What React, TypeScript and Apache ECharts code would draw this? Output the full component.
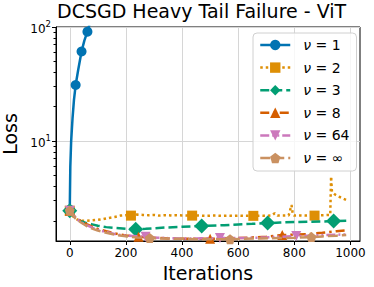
import React, { useEffect, useRef } from "react";
import * as echarts from "echarts";

// ---- data ----
const names = ["ν = 1", "ν = 2", "ν = 3", "ν = 8", "ν = 64", "ν = ∞"];
const colors = ["#0173B2", "#DE8F05", "#029E73", "#D55E00", "#CC78BC", "#CA9161"];

const x1 = [0, 2, 5, 10, 15, 21, 30, 42, 52, 63, 70];
const y1 = [2.5, 6, 10, 16, 23, 31, 42, 61, 76, 91, 105];
const m1 = [0, 21, 42, 63];

const x2 = [0, 10, 20, 30, 40, 60, 80, 100, 120, 140, 160, 180, 200, 218, 240, 260, 280, 300, 320, 340, 360, 380, 400, 436, 460, 480, 500, 520, 540, 560, 580, 600, 620, 654, 680, 700, 720, 730, 740, 760, 780, 790, 795, 800, 820, 840, 860, 872, 890, 910, 928, 931, 934, 945, 960, 972, 985];
const y2 = [2.45, 2.2, 2.1, 2.03, 2.0, 2.0, 2.02, 2.04, 2.07, 2.12, 2.16, 2.22, 2.24, 2.22, 2.27, 2.25, 2.24, 2.25, 2.22, 2.24, 2.23, 2.24, 2.23, 2.22, 2.22, 2.21, 2.22, 2.22, 2.21, 2.22, 2.21, 2.22, 2.21, 2.21, 2.22, 2.21, 2.23, 2.33, 2.22, 2.22, 2.23, 2.75, 2.25, 2.22, 2.23, 2.22, 2.23, 2.22, 2.23, 2.24, 2.25, 4.9, 3.6, 3.4, 3.25, 3.15, 3.05];
const m2 = [0, 218, 436, 654, 872];

const x3 = [0, 10, 20, 40, 60, 80, 100, 130, 160, 200, 235, 270, 300, 350, 400, 470, 550, 600, 650, 705, 750, 800, 850, 900, 940, 985];
const y3 = [2.45, 2.25, 2.12, 1.98, 1.91, 1.86, 1.81, 1.76, 1.73, 1.7, 1.69, 1.7, 1.72, 1.75, 1.77, 1.8, 1.83, 1.86, 1.88, 1.91, 1.93, 1.95, 1.96, 1.97, 1.99, 2.0];
const m3 = [0, 235, 470, 705, 940];

const x8 = [0, 20, 40, 60, 80, 100, 130, 160, 200, 245, 300, 350, 400, 450, 500, 550, 600, 650, 700, 757, 800, 850, 900, 950, 985];
const y8 = [2.45, 2.15, 1.98, 1.87, 1.78, 1.7, 1.62, 1.55, 1.49, 1.45, 1.42, 1.4, 1.39, 1.39, 1.39, 1.4, 1.41, 1.43, 1.45, 1.5, 1.51, 1.53, 1.57, 1.62, 1.65];
const m8 = [0, 245, 500, 757];

const x64 = [0, 20, 40, 60, 80, 100, 130, 160, 200, 270, 300, 350, 400, 450, 535, 600, 650, 700, 750, 807, 850, 900, 950, 985];
const y64 = [2.45, 2.12, 1.95, 1.83, 1.74, 1.67, 1.59, 1.53, 1.48, 1.45, 1.43, 1.41, 1.4, 1.4, 1.41, 1.41, 1.42, 1.43, 1.45, 1.47, 1.48, 1.5, 1.51, 1.52];
const m64 = [0, 270, 535, 807];

const xInf = [0, 20, 40, 60, 80, 100, 130, 160, 200, 240, 285, 330, 400, 450, 500, 571, 620, 680, 740, 800, 861, 900, 950, 985];
const yInf = [2.45, 2.1, 1.93, 1.8, 1.71, 1.64, 1.57, 1.51, 1.46, 1.43, 1.41, 1.4, 1.39, 1.38, 1.38, 1.38, 1.39, 1.4, 1.41, 1.42, 1.44, 1.46, 1.48, 1.5];
const mInf = [0, 285, 571, 861];

const xTicks = [0, 200, 400, 600, 800, 1000];
const yMajor = [10, 100];
const yMinor = [2, 3, 4, 5, 6, 7, 8, 9, 20, 30, 40, 50, 60, 70, 80, 90];

const FONT = "DejaVu Sans";
const pentagon = "path://M0,-1 L0.951,-0.309 L0.588,0.809 L-0.588,0.809 L-0.951,-0.309 Z";

function build(xs: number[], ys: number[], marks: number[]) {
  return xs.map((x, i) => (marks.includes(x) ? { value: [x, ys[i]] } : { value: [x, ys[i]], symbol: "none" }));
}

export default function App() {
  const ref = useRef<HTMLDivElement>(null);
  useEffect(() => {
    if (!ref.current) return;
    const chart = echarts.init(ref.current, null, { renderer: "svg" });
    const specs = [
      { xs: x1, ys: y1, m: m1, symbol: "circle", size: 10, dash: "solid" as any, rot: 0 },
      { xs: x2, ys: y2, m: m2, symbol: "rect", size: 10, dash: [2.5, 3], rot: 0 },
      { xs: x3, ys: y3, m: m3, symbol: "diamond", size: 15, dash: [9, 4], rot: 0 },
      { xs: x8, ys: y8, m: m8, symbol: "triangle", size: 10, dash: [9, 4, 2.5, 4], rot: 0 },
      { xs: x64, ys: y64, m: m64, symbol: "triangle", size: 10, dash: [9, 3, 2, 3, 2, 3], rot: 180 },
      { xs: xInf, ys: yInf, m: mInf, symbol: pentagon, size: 10, dash: [10, 4], rot: 0 },
    ];
    const series = specs.map((s, i) => ({
      type: "line",
      name: names[i],
      data: build(s.xs, s.ys, s.m),
      symbol: s.symbol,
      symbolSize: s.size,
      symbolRotate: s.rot,
      showAllSymbol: true,
      color: colors[i],
      itemStyle: { color: colors[i] },
      lineStyle: { color: colors[i], width: 2.5, type: s.dash },
      clip: true,
      z: 2 + i,
    }));
    chart.setOption({
      animation: false,
      textStyle: { fontFamily: FONT },
      title: {
        text: "DCSGD Heavy Tail Failure - ViT",
        left: 57,
        top: 1,
        padding: 0,
        textStyle: { fontFamily: FONT, fontSize: 19, fontWeight: "normal", color: "#000" },
      },
      grid: { left: 56, right: 14, top: 27, bottom: 46, show: true, borderColor: "#000", borderWidth: 1, backgroundColor: "#fff", containLabel: false, outerBoundsMode: "none" },
      legend: {
        orient: "vertical",
        left: 253,
        top: 33,
        padding: [5, 7, 6, 6],
        itemWidth: 30,
        itemHeight: 13,
        itemGap: 8.6,
        selectedMode: false,
        backgroundColor: "rgba(255,255,255,0.8)",
        borderColor: "#d0d0d0",
        borderWidth: 1,
        borderRadius: 4,
        lineStyle: { width: 2.5 },
        data: names,
        formatter: (n: string) => `{i|ν}{n|${n.slice(1)}}`,
        textStyle: {
          fontFamily: FONT,
          fontSize: 14,
          color: "#000",
          padding: [0, 0, 0, 8],
          rich: {
            i: { fontFamily: FONT, fontSize: 14, fontStyle: "italic", color: "#000" },
            n: { fontFamily: FONT, fontSize: 14, color: "#000" },
          },
        },
      },
      xAxis: {
        type: "value",
        min: -49,
        max: 1034,
        name: "Iterations",
        nameLocation: "middle",
        nameGap: 18,
        nameTextStyle: { fontFamily: FONT, fontSize: 19, color: "#000" },
        axisLine: { show: true, onZero: false, lineStyle: { color: "#000", width: 1 } },
        axisTick: { show: true, length: 4, customValues: xTicks, lineStyle: { color: "#000", width: 1 } },
        axisLabel: { customValues: xTicks, margin: 6, fontFamily: FONT, fontSize: 12, color: "#000", formatter: (v: number) => String(v) },
        splitLine: { show: true, lineStyle: { color: "#d6d6d6", width: 1 } },
      },
      yAxis: [
        {
          type: "log",
          logBase: 10,
          min: 1.33,
          max: 100,
          name: "Loss",
          nameLocation: "middle",
          nameGap: 30,
          nameTextStyle: { fontFamily: FONT, fontSize: 19, color: "#000" },
          axisLine: { show: true, onZero: false, lineStyle: { color: "#000", width: 1 } },
          axisTick: { show: true, length: 4, customValues: yMajor, lineStyle: { color: "#000", width: 1 } },
          axisLabel: {
            customValues: yMajor,
            margin: 5,
            formatter: (v: number) => `{b|10}{s|${Math.round(Math.log10(v))}}`,
            rich: {
              b: { fontFamily: FONT, fontSize: 12, color: "#000", lineHeight: 16, verticalAlign: "bottom" },
              s: { fontFamily: FONT, fontSize: 8.5, color: "#000", lineHeight: 16, verticalAlign: "top" },
            },
          },
          splitLine: { show: true, lineStyle: { color: "#d6d6d6", width: 1 } },
        },
        {
          type: "log",
          logBase: 10,
          min: 1.33,
          max: 100,
          position: "left",
          axisLine: { show: false, onZero: false },
          axisTick: { show: true, length: 2.5, customValues: yMinor, lineStyle: { color: "#000", width: 1 } },
          axisLabel: { show: false },
          splitLine: { show: false },
        },
      ],
      series,
    });
    return () => chart.dispose();
  }, []);
  return <div ref={ref} style={{ position: "fixed", left: 0, top: 0, width: 374, height: 287, background: "#fff" }} />;
}
